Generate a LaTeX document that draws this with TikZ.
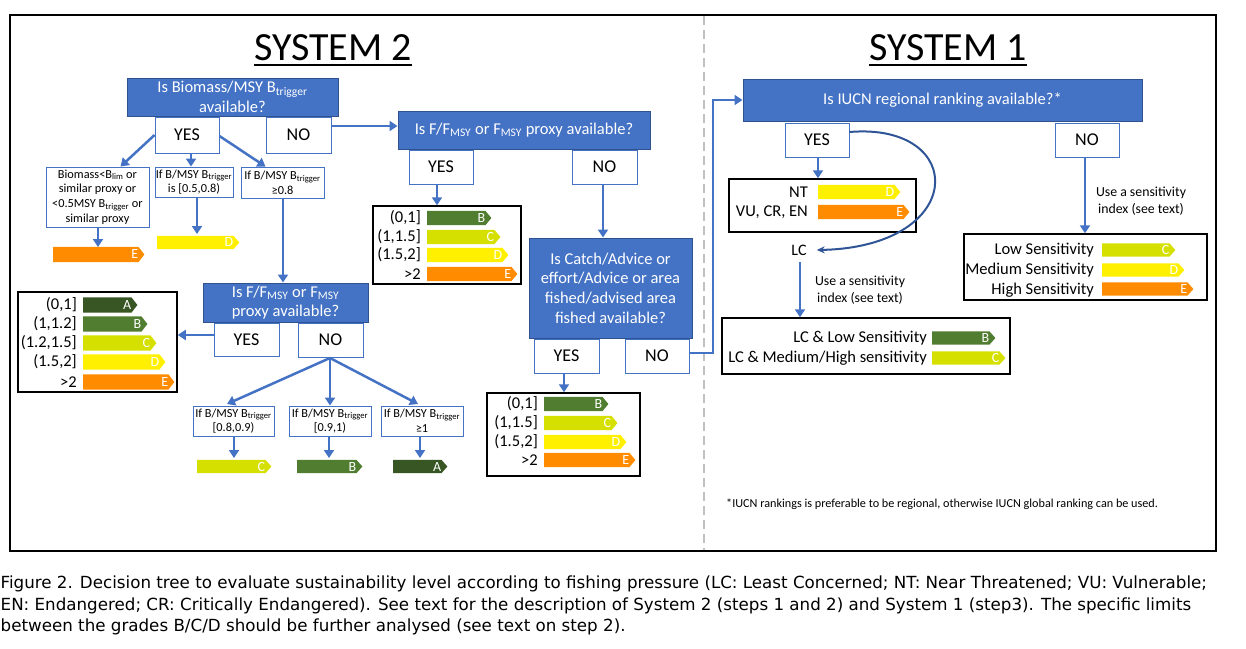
\documentclass[tikz,border=0pt]{standalone}
\usepackage{fontspec}
\setmainfont{Carlito}
\newfontfamily\capfont{DejaVu Sans}
\usetikzlibrary{arrows.meta,calc}
\definecolor{obl}{HTML}{4472C4}
\definecolor{obd}{HTML}{2F528F}
\definecolor{cur}{HTML}{2F5597}
\definecolor{gA}{HTML}{375623}
\definecolor{gB}{HTML}{507D2F}
\definecolor{gC}{HTML}{D6E000}
\definecolor{gD}{HTML}{FFF000}
\definecolor{gE}{HTML}{FF8C00}
\definecolor{dashg}{HTML}{C0C0C0}
\tikzset{
  wh/.style 2 args={minimum width=#1pt, minimum height=#2pt},
  qbox/.style={draw=obd, line width=1pt, fill=obl, text=white, align=center, inner sep=0pt, font=\fontsize{16.5}{19.5}\selectfont},
  ynbox/.style={draw=obl, line width=0.9pt, fill=white, inner sep=0pt, font=\fontsize{18}{20}\selectfont},
  cbox/.style={draw=obl, line width=0.9pt, fill=white, align=center, inner sep=0pt, font=\fontsize{12.3}{14.8}\selectfont},
  tbl/.style={draw=black, line width=1.5pt, inner sep=0pt},
  arr/.style={draw=obl, line width=2.5pt, -{Triangle[length=8pt,width=10pt]}},
  lbl/.style={font=\fontsize{16.5}{19}\selectfont, anchor=east, inner sep=0pt},
  lettr/.style={text=white, font=\fontsize{14}{14}\selectfont, inner sep=0pt},
  note/.style={font=\fontsize{13.8}{16.8}\selectfont, align=center, inner sep=0pt},
  ttl/.style={font=\fontsize{40}{40}\selectfont, inner sep=0pt, anchor=base},
  capl/.style={font=\capfont\fontsize{16.7}{20}\selectfont, anchor=base west, inner sep=0pt},
}
\newcommand\gbar[7]{%
  \node[inner sep=0pt, minimum width=#4pt, minimum height=#5pt, anchor=west] (#1) at (#2,#3) {};
  \fill[#6] (#1.north west) -- ([xshift=-6pt]#1.north east) -- (#1.east) -- ([xshift=-6pt]#1.south east) -- (#1.south west) -- cycle;
  \node[lettr, anchor=east] (#1l) at ([xshift=-6pt]#1.east) {#7};}
\newcommand\trg{B\textsubscript{trigger}}
\begin{document}
\begin{tikzpicture}[x=1pt,y=-1pt]
\useasboundingbox (0,0) rectangle (1246,648);
% frame and divider
\draw[line width=1.5pt] (10,15) rectangle (1216,551);
\draw[dashg, line width=2.5pt, dash pattern=on 9pt off 5pt] (704,16) -- (704,550);
% titles
\node[ttl] (t2) at (333,60) {SYSTEM 2};
\draw[line width=2.5pt] ([yshift=-5pt]t2.base west) -- ([yshift=-5pt]t2.base east);
\node[ttl] (t1) at (948,60) {SYSTEM 1};
\draw[line width=2.5pt] ([yshift=-5pt]t1.base west) -- ([yshift=-5pt]t1.base east);

% ---------------- SYSTEM 2 ----------------
\node[qbox, wh={211}{38}] (Q1) at (232.5,97) {Is Biomass/MSY \trg\\available?};
\node[ynbox, wh={64}{36}] (Y1) at (187,135) {YES};
\node[ynbox, wh={65}{36}] (N1) at (298.5,135) {NO};
\node[qbox, wh={252}{38}] (Q2) at (524,130) {Is F/F\textsubscript{MSY} or F\textsubscript{MSY} proxy available?};
\node[ynbox, wh={64}{34}] (Y2) at (441,167) {YES};
\node[ynbox, wh={65}{34}] (N2) at (604.5,167) {NO};
\draw[arr] ([yshift=9pt]N1.east) -- ([yshift=9pt]N1.east -| Q2.west);

% YES1 branches
\node[cbox, wh={103}{60}] (B1) at (97.5,197) {Biomass<B\textsubscript{lim} or\\similar proxy or\\<0.5MSY \trg{} or\\similar proxy};
\node[cbox, wh={78}{30}] (B2) at (194,182) {If B/MSY \trg\\is [0.5,0.8)};
\node[cbox, wh={83}{31}] (B3) at (282.5,182.5) {If B/MSY \trg\\≥0.8};
\draw[arr] (Y1.west) -- ([xshift=23pt]B1.north);
\draw[arr] ([xshift=4pt]Y1.south) -- ([xshift=4pt]Y1.south |- B2.north);
\draw[arr] ([yshift=-1pt]Y1.east) -- ([xshift=-17pt]B3.north);
\gbar{E1}{53}{254.5}{91}{15}{gE}{E}
\gbar{D1}{157}{242.5}{82}{13}{gD}{D}
\draw[arr] (B1.south -| 98,0) -- (98,247);
\draw[arr] (B2.south -| 197,0) -- (197,234);

% second question
\node[qbox, wh={165}{39}] (Q4) at (285.5,302.5) {Is F/F\textsubscript{MSY} or F\textsubscript{MSY}\\proxy available?};
\node[ynbox, wh={65}{33}] (Y4) at (246.5,339.5) {YES};
\node[ynbox, wh={65}{34}] (N4) at (330.5,340) {NO};
\draw[arr] (B3.south -| 283,0) -- (Q4.north -| 283,0);

% table A-E
\node[tbl, wh={159}{100}] (T4) at (97.5,342) {};
\draw[arr] ([yshift=4.5pt]Y4.west) -- ([yshift=4.5pt]Y4.west -| T4.east);
\node[lbl] (T4a) at (77,305) {(0,1]};
\node[lbl] (T4b) at (77,324) {(1,1.2]};
\node[lbl] (T4c) at (77,343) {(1.2,1.5]};
\node[lbl] (T4d) at (77,362) {(1.5,2]};
\node[lbl] (T4e) at (77,382) {>2};
\gbar{T4A}{83}{305}{54}{15}{gA}{A}
\gbar{T4B}{83}{324}{64}{15}{gB}{B}
\gbar{T4C}{83}{343}{73}{15}{gC}{C}
\gbar{T4D}{83}{362}{82}{15}{gD}{D}
\gbar{T4E}{83}{382}{91}{15}{gE}{E}

% NO4 branches
\node[cbox, wh={81}{30}] (S1) at (233.5,421) {If B/MSY \trg\\{[}0.8,0.9)};
\node[cbox, wh={82}{30}] (S2) at (330,421) {If B/MSY \trg\\{[}0.9,1)};
\node[cbox, wh={82}{30}] (S3) at (422,421) {If B/MSY \trg\\≥1};
\coordinate (n4s) at (330,358);
\draw[arr] (n4s) -- (227,404);
\draw[arr] (n4s) -- (S2.north);
\draw[arr] (n4s) -- (418,404);
\gbar{C4}{197}{466.5}{74}{13}{gC}{C}
\gbar{B4}{297}{466.5}{65}{13}{gB}{B}
\gbar{A4}{393}{466.5}{54}{13}{gA}{A}
\draw[arr] (S1.south -| 234,0) -- (234,458);
\draw[arr] (S2.south -| 329,0) -- (329,458);
\draw[arr] (S3.south -| 420,0) -- (420,458);

% YES2 table
\node[tbl, wh={148}{78}] (T2) at (447,245) {};
\draw[arr] (Y2.south -| 437,0) -- (T2.north -| 437,0);
\node[lbl] (T2a) at (421,218) {(0,1]};
\node[lbl] (T2b) at (421,237) {(1,1.5]};
\node[lbl] (T2c) at (421,255) {(1.5,2]};
\node[lbl] (T2d) at (421,274) {>2};
\gbar{T2B}{427}{218}{64}{14}{gB}{B}
\gbar{T2C}{427}{237}{73}{14}{gC}{C}
\gbar{T2D}{427}{255}{81}{14}{gD}{D}
\gbar{T2E}{427}{274}{90}{14}{gE}{E}

% Q3
\node[qbox, wh={163}{100}, font=\fontsize{16.5}{19.7}\selectfont] (Q3) at (610.5,288) {Is Catch/Advice or\\effort/Advice or area\\fished/advised area\\fished available?};
\draw[arr] (N2.south -| 603,0) -- (Q3.north -| 603,0);
\node[ynbox, wh={65}{34}] (Y3) at (566.5,356) {YES};
\node[ynbox, wh={64}{34}] (N3) at (657,356) {NO};
\node[tbl, wh={153}{83}] (T3) at (563.5,434.5) {};
\draw[arr] (Y3.south -| 564,0) -- (T3.north -| 564,0);
\node[lbl] (T3a) at (538,404) {(0,1]};
\node[lbl] (T3b) at (538,423) {(1,1.5]};
\node[lbl] (T3c) at (538,442) {(1.5,2]};
\node[lbl] (T3d) at (538,460) {>2};
\gbar{T3B}{544}{404}{64}{14}{gB}{B}
\gbar{T3C}{544}{423}{73}{14}{gC}{C}
\gbar{T3D}{544}{442}{82}{14}{gD}{D}
\gbar{T3E}{544}{460}{91}{14}{gE}{E}

% ---------------- SYSTEM 1 ----------------
\node[qbox, wh={399}{42}] (IU) at (942.5,100) {Is IUCN regional ranking available?*};
\coordinate (jx) at (713,0);
\draw[arr] ([yshift=3pt]N3.east) -- ([yshift=3pt]N3.east -| jx) |- (IU.west);
\node[ynbox, wh={64}{34}] (Y5) at (817,140) {YES};
\node[ynbox, wh={64}{34}] (N5) at (1087,140) {NO};
\node[tbl, wh={187}{53}] (T5) at (822.5,205.5) {};
\draw[arr] (Y5.south -| 818,0) -- (T5.north -| 818,0);
\node[lbl] (T5a) at (808,192) {NT};
\node[lbl] (T5b) at (808,212) {VU, CR, EN};
\gbar{T5D}{818}{192}{82}{14}{gD}{D}
\gbar{T5E}{818}{212}{91}{14}{gE}{E}

\node[font=\fontsize{16}{19}\selectfont, inner sep=0pt] (LC) at (799,250) {LC};
\draw[cur, line width=2pt, -{Stealth[length=8pt,width=7pt]}] ([yshift=8pt]Y5.east) .. controls (968,122) and (968,247) .. ([xshift=10pt]LC.east);
\node[tbl, wh={288}{56}] (T6) at (866,346) {};
\coordinate (lcs) at (800,262);
\draw[arr] (lcs) -- (lcs |- T6.north);
\node[note] (L1) at (860,290) {Use a sensitivity\\index (see text)};
\node[lbl] (T6a) at (927,338) {LC \& Low Sensitivity};
\node[lbl] (T6b) at (927,358) {LC \& Medium/High sensitivity};
\gbar{T6B}{932}{338}{63}{13}{gB}{B}
\gbar{T6C}{932}{358}{73}{13}{gC}{C}

\node[tbl, wh={243}{66}] (T7) at (1085.5,267) {};
\draw[arr] (N5.south -| 1085,0) -- (T7.north -| 1085,0);
\node[note] (L2) at (1141,201) {Use a sensitivity\\index (see text)};
\node[lbl] (T7a) at (1094,250) {Low Sensitivity};
\node[lbl] (T7b) at (1094,270) {Medium Sensitivity};
\node[lbl] (T7c) at (1094,290) {High Sensitivity};
\gbar{T7C}{1102}{250}{73}{13}{gC}{C}
\gbar{T7D}{1102}{270}{82}{13}{gD}{D}
\gbar{T7E}{1102}{289}{91}{13}{gE}{E}

\node[font=\fontsize{12.2}{14}\selectfont, anchor=west, inner sep=0pt] (fn) at (726,504) {*IUCN rankings is preferable to be regional, otherwise IUCN global ranking can be used.};

% caption
\node[capl] (c1) at (0.5,588) {Figure 2. Decision tree to evaluate sustainability level according to fishing pressure (LC: Least Concerned; NT: Near Threatened; VU: Vulnerable;};
\node[capl] (c2) at (0.5,610) {EN: Endangered; CR: Critically Endangered). See text for the description of System 2 (steps 1 and 2) and System 1 (step3). The specific limits};
\node[capl] (c3) at (0.5,631) {between the grades B/C/D should be further analysed (see text on step 2).};
\end{tikzpicture}
\end{document}
